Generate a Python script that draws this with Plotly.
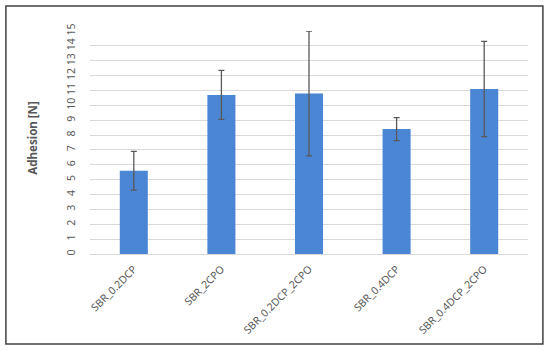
import plotly.graph_objects as go

categories = ["SBR_0.2DCP", "SBR_2CPO", "SBR_0.2DCP_2CPO", "SBR_0.4DCP", "SBR_0.4DCP_2CPO"]
adhesion = [5.6, 10.7, 10.8, 8.4, 11.1]
adhesion_err = [1.3, 1.65, 4.2, 0.77, 3.2]
y_ticks = list(range(0, 16))

BAR_COLOR = "#4a86d4"
TEXT_COLOR = "#595959"
GRID_COLOR = "#d9d9d9"
FONT = "Noto Sans"

fig = go.Figure()
fig.add_trace(
    go.Bar(
        x=categories,
        y=adhesion,
        width=0.32,
        marker=dict(color=BAR_COLOR, line=dict(width=0)),
        error_y=dict(
            type="data",
            array=adhesion_err,
            visible=True,
            color=TEXT_COLOR,
            thickness=1.3,
            width=3,
        ),
    )
)

fig.update_xaxes(
    automargin=False,
    tickangle=-45,
    tickfont=dict(family=FONT, size=10.5, color=TEXT_COLOR),
    ticklabelstandoff=4,
    showline=True,
    linecolor=GRID_COLOR,
    linewidth=1,
    ticks="",
)
fig.update_yaxes(
    automargin=False,
    range=[0, 15],
    tickvals=y_ticks,
    tickangle=-90,
    tickfont=dict(family=FONT, size=10.5, color=TEXT_COLOR),
    gridcolor=GRID_COLOR,
    gridwidth=1,
    zeroline=False,
    ticklabelstandoff=12,
)

# y axis title, placed by hand so it sits where the original has it
fig.add_annotation(
    text="<b>Adhesion [N]</b>",
    xref="paper",
    yref="paper",
    x=-0.155,
    y=0.52,
    textangle=-90,
    showarrow=False,
    font=dict(family=FONT, size=11.5, color=TEXT_COLOR),
)

fig.add_shape(
    type="rect",
    xref="paper",
    yref="paper",
    x0=-0.192,
    x1=1.034,
    y0=-0.404,
    y1=1.112,
    line=dict(color="#404040", width=1.5),
)

fig.update_layout(
    width=550,
    height=351,
    showlegend=False,
    plot_bgcolor="white",
    paper_bgcolor="white",
    margin=dict(l=90, r=22, t=31, b=97),
)

# page body has a default 8px margin; drop it so the figure sits at (0, 0)
fig.write_html(
    "out.html",
    config={"displayModeBar": False},
    post_script="document.body.style.margin = '0';",
)
